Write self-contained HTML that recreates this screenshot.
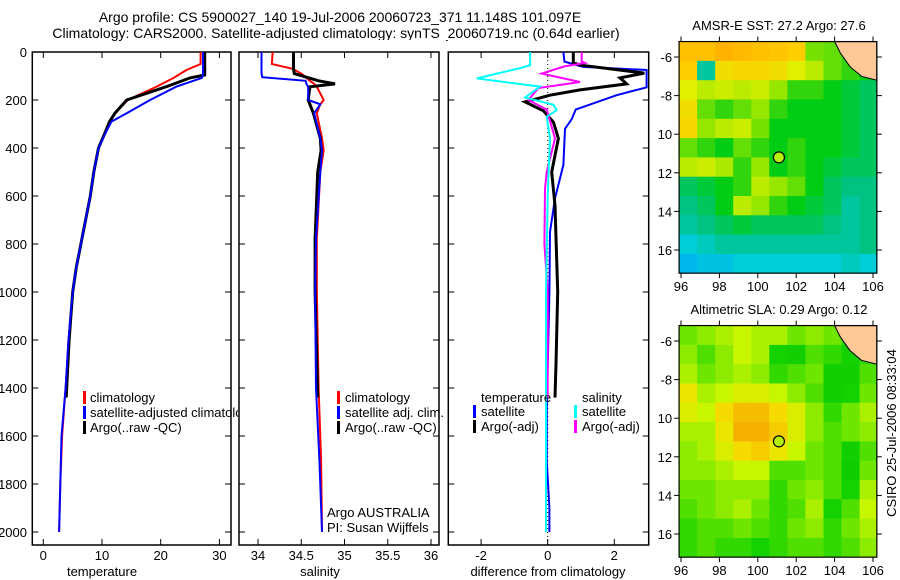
<!DOCTYPE html>
<html><head><meta charset="utf-8"><style>
html,body{margin:0;padding:0;background:#fff;}
svg{display:block;font-family:"Liberation Sans",sans-serif;}
</style></head><body>
<svg id="fig" width="900" height="580" viewBox="0 0 900 580" xmlns="http://www.w3.org/2000/svg">
<text x="340" y="22" font-size="14" text-anchor="middle">Argo profile: CS 5900027_140 19-Jul-2006 20060723_371 11.148S 101.097E</text>
<text x="336" y="38" font-size="14" text-anchor="middle">Climatology: CARS2000. Satellite-adjusted climatology: synTS_20060719.nc (0.64d earlier)</text>
</svg>
<script>
// ---------- data ----------
const tDepth = [0,50,75,96,108,144,200,255,290,338,400,500,600,700,800,900,1000,1200,1400,1600,1800,2000];
const tClim  = [26.8,26.8,24.4,23.0,22.2,19.3,14.4,12.2,11.4,10.5,9.4,8.6,8.0,7.2,6.4,5.6,5.0,4.3,3.8,3.2,2.9,2.7];
const tSat   = [27.2,27.2,27.2,27.2,27.0,22.7,18.2,14.2,11.6,10.6,9.4,8.6,8.0,7.2,6.4,5.6,5.0,4.3,3.8,3.1,2.9,2.7];
const tArgoDepth = [0,50,75,96,108,144,200,255,290,338,400,500,600,700,800,900,1000,1200,1440];
const tArgo  = [27.5,27.5,27.5,27.5,25.0,21.0,14.2,12.2,11.3,10.5,9.4,8.6,8.0,7.2,6.4,5.6,5.0,4.4,3.9];

const sDepth = [0,50,70,90,105,120,133,145,200,218,255,360,410,500,780,1000,1400,1700,2000];
const sClim  = [34.17,34.16,34.40,34.50,34.55,34.60,34.65,34.68,34.76,34.72,34.68,34.74,34.76,34.72,34.68,34.68,34.70,34.73,34.74];
const sSat   = [34.04,34.04,34.04,34.04,34.05,34.55,34.56,34.58,34.58,34.72,34.65,34.72,34.74,34.72,34.67,34.66,34.67,34.71,34.74];
const sArgoDepth = [0,50,70,90,105,120,133,145,200,218,255,360,410,500,780,1000,1440];
const sArgo  = [34.41,34.41,34.41,34.42,34.56,34.70,34.89,34.60,34.58,34.60,34.64,34.72,34.73,34.69,34.66,34.66,34.69];

const dTSatDepth = [0,40,62,75,104,147,180,240,280,320,470,610,750,1000,1500,1700,1900,2000];
const dTSat      = [0.47,0.50,1.06,2.97,2.97,2.97,2.07,0.84,0.72,0.52,0.47,0.22,0.07,0.05,-0.03,-0.03,0.05,0.05];
const dTArgoDepth = [0,46,55,88,108,133,158,180,208,245,292,360,500,640,1000,1300,1440];
const dTArgo      = [0.77,0.77,1.0,2.9,2.17,2.37,0.97,0.07,-0.68,-0.13,0.17,0.32,0.12,0.22,0.3,0.25,0.22];
const dSSatDepth = [0,55,67,110,144,190,220,242,270,360,600,1000,1500,2000];
const dSSat      = [-0.53,-0.53,-0.83,-2.13,-0.23,-0.68,0.17,0.27,-0.03,0.07,0.0,-0.05,-0.05,-0.05];
const dSArgoDepth = [0,40,46,60,90,125,150,200,240,360,500,570,800,1000,1440];
const dSArgo      = [1.02,1.02,1.12,0.5,-0.18,0.97,-0.28,-0.58,-0.03,0.22,-0.03,-0.08,-0.1,0.0,0.0];

const depthTicks = [0,200,400,600,800,1000,1200,1400,1600,1800,2000];
const tTicks = [0,10,20,30];
const sTicks = [34,34.5,35,35.5,36];
const dTicks = [-2,0,2];
const lonTicks = [96,98,100,102,104,106];
const latTicks = [-6,-8,-10,-12,-14,-16];
const latLabels = ["-6","-8","10","12","14","16"];

const sstGrid = [
[.90,.90,.95,.92,.90,.88,.85,.62,.60,.55,.50],
[.85,.30,.80,.82,.82,.80,.75,.70,.60,.55,.50],
[.75,.70,.72,.70,.72,.65,.55,.55,.50,.45,.40],
[.80,.60,.55,.60,.65,.55,.50,.50,.50,.45,.40],
[.82,.65,.70,.72,.62,.50,.50,.50,.50,.45,.40],
[.60,.55,.50,.60,.55,.50,.55,.50,.50,.45,.40],
[.70,.72,.68,.55,.65,.50,.55,.50,.45,.40,.40],
[.40,.45,.50,.55,.70,.65,.60,.50,.40,.35,.35],
[.35,.40,.50,.70,.65,.55,.50,.45,.40,.30,.35],
[.30,.35,.40,.45,.40,.40,.40,.40,.35,.30,.35],
[.20,.25,.30,.30,.30,.30,.30,.30,.30,.30,.35],
[.10,.15,.15,.20,.20,.20,.20,.20,.20,.25,.20]];
const slaGrid = [
[.50,.55,.60,.65,.60,.60,.50,.55,.50,.40,.40],
[.55,.45,.55,.65,.60,.35,.30,.45,.40,.35,.40],
[.60,.50,.55,.60,.55,.40,.45,.50,.30,.30,.45],
[.75,.60,.65,.70,.70,.65,.55,.45,.30,.35,.50],
[.70,.65,.80,.90,.90,.80,.70,.55,.40,.50,.60],
[.60,.60,.75,.95,.95,.85,.70,.55,.45,.50,.55],
[.55,.60,.70,.80,.85,.75,.65,.50,.45,.30,.45],
[.55,.55,.60,.65,.65,.45,.45,.50,.45,.25,.50],
[.50,.50,.55,.55,.55,.40,.50,.55,.45,.35,.60],
[.45,.50,.55,.60,.50,.40,.45,.60,.35,.45,.65],
[.40,.45,.45,.50,.45,.40,.50,.55,.40,.50,.60],
[.40,.45,.40,.40,.35,.40,.45,.45,.40,.45,.55]];
const floatLon = 101.1, floatLat = -11.2;

// ---------- helpers ----------
const NS = "http://www.w3.org/2000/svg";
const svg = document.getElementById('fig');
function mk(tag, attrs, parent){
  const e = document.createElementNS(NS, tag);
  for (const k in attrs) e.setAttribute(k, attrs[k]);
  (parent||svg).appendChild(e); return e;
}
const yD = d => 52 + d*0.24;
const xT = v => 43.3 + v*5.87;
const xS = v => 258 + (v-34)*86.5;
const xDf = v => 547.7 + v*33.3;

function panel(x0, x1, name){
  const r = mk('rect',{x:x0,y:52,width:x1-x0,height:493,fill:'#fff',stroke:'#000','stroke-width':1.5});
  
  
  depthTicks.forEach(d=>{
    mk('line',{x1:x0,x2:x0+6,y1:yD(d),y2:yD(d),stroke:'#000'});
    mk('line',{x1:x1-6,x2:x1,y1:yD(d),y2:yD(d),stroke:'#000'});
  });
}
function xticks(ticks, fx){
  ticks.forEach(t=>{
    const x = fx(t);
    mk('line',{x1:x,x2:x,y1:52,y2:58,stroke:'#000'});
    mk('line',{x1:x,x2:x,y1:539,y2:545,stroke:'#000'});
    const tx = mk('text',{x:x,y:560,'font-size':13,'text-anchor':'middle'});
    tx.textContent = t;
    
    
  });
}
function line(depths, vals, fx, color, w, name){
  const pts = depths.map((d,i)=>fx(vals[i]).toFixed(1)+','+yD(d).toFixed(1)).join(' ');
  const p = mk('polyline',{points:pts,fill:'none',stroke:color,'stroke-width':w,'stroke-linejoin':'miter'});
  
  
}
function txt(x,y,s,size,anchor,name){
  const t = mk('text',{x:x,y:y,'font-size':size||13,'text-anchor':anchor||'start'});
  t.textContent = s;
  
  
  return t;
}
function legBar(x,y,color){
  const b = mk('rect',{x:x,y:y-11,width:3,height:13,fill:color});
  
  
}

// ---------- panel 1 ----------
panel(32.3, 231, 'temperature-panel');
depthTicks.forEach(d=>{ txt(27, yD(d)+5, String(d), 13, 'end', 'y-tick-label'); });
xticks(tTicks, xT);
line(tDepth, tClim, xT, '#f00', 2, 'temp-climatology-line');
line(tArgoDepth, tArgo, xT, '#000', 3, 'temp-argo-line');
line(tDepth, tSat, xT, '#00f', 2, 'temp-satellite-line');
legBar(83,402,'#f00'); txt(90,402,'climatology',13,'start','legend-climatology');
legBar(83,417,'#00f'); txt(90,417,'satellite-adjusted climatology',13,'start','legend-satellite');
legBar(83,432,'#000'); txt(90,432,'Argo(..raw -QC)',13,'start','legend-argo');
txt(102,576,'temperature',13,'middle','x-axis-title-temperature');

// ---------- panel 2 ----------
mk('rect',{x:238,y:40,width:208,height:510,fill:'#fff'});
panel(239, 439, 'salinity-panel');
xticks(sTicks, xS);
line(sDepth, sClim, xS, '#f00', 2, 'sal-climatology-line');
line(sArgoDepth, sArgo, xS, '#000', 3, 'sal-argo-line');
line(sDepth, sSat, xS, '#00f', 2, 'sal-satellite-line');
legBar(337,402,'#f00'); txt(345,402,'climatology',13,'start','legend-climatology-2');
legBar(337,417,'#00f'); txt(345,417,'satellite adj. clim.',13,'start','legend-satellite-2');
legBar(337,432,'#000'); txt(345,432,'Argo(..raw -QC)',13,'start','legend-argo-2');
txt(327,517,'Argo AUSTRALIA',13,'start','credit-argo-australia');
txt(327,532,'PI: Susan Wijffels',13,'start','credit-pi');
txt(320,576,'salinity',13,'middle','x-axis-title-salinity');

// ---------- panel 3 ----------
panel(448.3, 648.7, 'difference-panel');
xticks(dTicks, xDf);
mk('line',{x1:xDf(0),x2:xDf(0),y1:52,y2:545,stroke:'#000','stroke-dasharray':'1,3'});
line(dTSatDepth, dTSat, xDf, '#00f', 2, 'diff-temp-satellite-line');
line(dTArgoDepth, dTArgo, xDf, '#000', 3, 'diff-temp-argo-line');
line(dSArgoDepth, dSArgo, xDf, '#f0f', 2, 'diff-sal-argo-line');
line(dSSatDepth, dSSat, xDf, '#0ff', 2, 'diff-sal-satellite-line');
txt(481,402,'temperature',13,'start','legend-temperature-header');
legBar(473,416,'#00f'); txt(481,416,'satellite',13,'start','legend-temp-satellite');
legBar(473,431,'#000'); txt(481,431,'Argo(-adj)',13,'start','legend-temp-argo');
txt(582,402,'salinity',13,'start','legend-salinity-header');
legBar(574,416,'#0ff'); txt(582,416,'satellite',13,'start','legend-sal-satellite');
legBar(574,431,'#f0f'); txt(582,431,'Argo(-adj)',13,'start','legend-sal-argo');
txt(548,576,'difference from climatology',13,'middle','x-axis-title-difference');

// ---------- maps ----------
function lerpStops(stops, v){
  v = Math.max(0, Math.min(1, v));
  for (let i=1;i<stops.length;i++){
    if (v <= stops[i][0]){
      const a=stops[i-1], b=stops[i], f=(v-a[0])/(b[0]-a[0]);
      return 'rgb('+[1,2,3].map(k=>Math.round(a[k]+(b[k]-a[k])*f)).join(',')+')';
    }
  }
  const l = stops[stops.length-1]; return 'rgb('+l[1]+','+l[2]+','+l[3]+')';
}
const sstStops = [[0,0,160,255],[0.2,0,205,215],[0.35,0,195,130],[0.5,0,205,20],[0.65,150,230,0],[0.75,225,240,0],[0.85,255,205,0],[1,255,165,0]];
const slaStops = [[0,0,190,0],[0.35,20,210,0],[0.5,110,230,0],[0.65,200,245,0],[0.78,245,225,0],[1,245,160,0]];

function drawMap(grid, stops, yOff, title, name){
  const xL = lon => 681 + (lon-96)*19.2;
  const yL = lat => yOff + (-6-lat)*19.3;
  const g = mk('g',{});
  
  
  grid.forEach((row,r)=>{
    row.forEach((v,c)=>{
      const lon0 = 95.9 + c*0.94, lat0 = -5.2 - r*1.0;
      const cell = mk('rect',{x:xL(lon0).toFixed(1),y:yL(lat0).toFixed(1),width:19.2*0.94+0.6,height:19.9,fill:lerpStops(stops,v)},g);
      
      
    });
  });
  const land = [[104.0,-5.2],[106.2,-5.2],[106.2,-7.2],[105.4,-7.0],[104.8,-6.5],[104.3,-5.8]];
  const lp = mk('polygon',{points:land.map(p=>xL(p[0]).toFixed(1)+','+yL(p[1]).toFixed(1)).join(' '),fill:'#ffc896',stroke:'#000','stroke-width':1},g);
  
  
  const x0 = xL(95.9), x1 = xL(106.2), y0 = yL(-5.2), y1 = yL(-17.2);
  mk('rect',{x:x1+0.5,y:y0-2,width:20,height:y1-y0+4,fill:'#fff'},g);
  mk('rect',{x:x0-20,y:y1,width:x1-x0+40,height:8,fill:'#fff'},g);
  mk('rect',{x:x0,y:y0,width:x1-x0,height:y1-y0,fill:'none',stroke:'#000','stroke-width':1.2},g);
  lonTicks.forEach(l=>{
    const x = xL(l);
    mk('line',{x1:x,x2:x,y1:y0-5,y2:y0,stroke:'#000'},g);
    mk('line',{x1:x,x2:x,y1:y1,y2:y1+5,stroke:'#000'},g);
    const t = mk('text',{x:x,y:y1+18,'font-size':13,'text-anchor':'middle'},g);
    t.textContent = l;
    
    
  });
  latTicks.forEach((l,i)=>{
    const y = yL(l);
    mk('line',{x1:x0-5,x2:x0,y1:y,y2:y,stroke:'#000'},g);
    mk('line',{x1:x1,x2:x1+5,y1:y,y2:y,stroke:'#000'},g);
    const t = mk('text',{x:x0-7,y:y+5,'font-size':13,'text-anchor':'end'},g);
    t.textContent = latLabels[i];
    
    
  });
  const c = mk('circle',{cx:xL(floatLon),cy:yL(floatLat),r:5.5,fill:'#b4f000',stroke:'#000','stroke-width':1.2},g);
  
  
  const tt = mk('text',{x:779,y:yOff-27,'font-size':13,'text-anchor':'middle'},g);
  tt.textContent = title;
  
  
}
drawMap(sstGrid, sstStops, 57, 'AMSR-E SST: 27.2 Argo: 27.6', 'sst-map');
drawMap(slaGrid, slaStops, 341, 'Altimetric SLA: 0.29 Argo: 0.12', 'sla-map');

const cs = txt(0,0,'CSIRO 25-Jul-2006 08:33:04',13,'middle','timestamp-label');
cs.setAttribute('transform','translate(896,433) rotate(-90)');
</script>
</body></html>
